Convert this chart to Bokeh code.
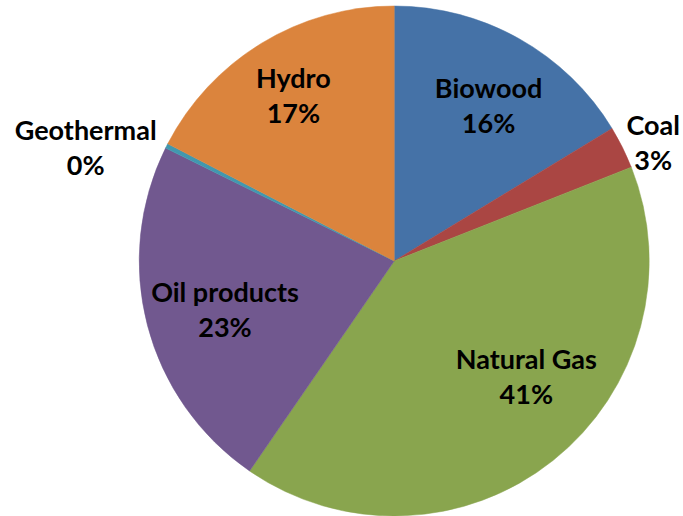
import math
from bokeh.plotting import figure
from bokeh.models import ColumnDataSource, Range1d
from bokeh.core.properties import value
from bokeh.embed import file_html
from bokeh.resources import INLINE

# ---- data ----
categories = ["Biowood", "Coal", "Natural Gas", "Oil products", "Geothermal", "Hydro"]
shares = [16.3, 2.7, 40.6, 22.7, 0.3, 17.4]
colors = ["#4572A7", "#AA4643", "#89A54E", "#71588F", "#4198AF", "#DB843D"]

# ---- layout (label placement: radius in px, angle nudge in degrees) ----
label_radius = [182, 285, 175, 176, 329, 194]
label_nudge = [-1.9, -1.8, 10.5, 1.4, 6.5, 0.0]

W, H = 683, 516
CX, CY, R = 393.7, 255.5, 255

total = sum(shares)
starts, ends, mids = [], [], []
cum = 0.0
for s in shares:
    a0 = math.pi / 2 - 2 * math.pi * cum / total
    cum += s
    a1 = math.pi / 2 - 2 * math.pi * cum / total
    starts.append(a0)
    ends.append(a1)
    mids.append((a0 + a1) / 2)

pcts = [f"{round(100 * s / total)}%" for s in shares]
lx, ly = [], []
for m, r, n in zip(mids, label_radius, label_nudge):
    a = m + math.radians(n)
    lx.append(CX + r * math.cos(a))
    ly.append(CY + r * math.sin(a))

src = ColumnDataSource(dict(cat=categories, start=starts, end=ends, color=colors,
                            lx=lx, ly=ly, pct=pcts))

p = figure(width=W, height=H, output_backend="svg", toolbar_location=None,
           x_range=Range1d(0, W), y_range=Range1d(0, H), min_border=0)
p.axis.visible = False
p.grid.visible = False
p.outline_line_color = None
p.background_fill_color = "white"

p.wedge(x=CX, y=CY, radius=R, start_angle="start", end_angle="end",
        direction="clock", fill_color="color", line_color="color", line_width=0.5,
        source=src)

common = dict(text_font=value("Lato"), text_font_style="bold", text_font_size="27px",
              text_color="#000000", text_align="center", text_baseline="middle")
p.text(x="lx", y="ly", text="cat", y_offset=-17.5, source=src, **common)
p.text(x="lx", y="ly", text="pct", y_offset=17.5, source=src, **common)

open("out.html", "w").write(file_html(p, INLINE))
